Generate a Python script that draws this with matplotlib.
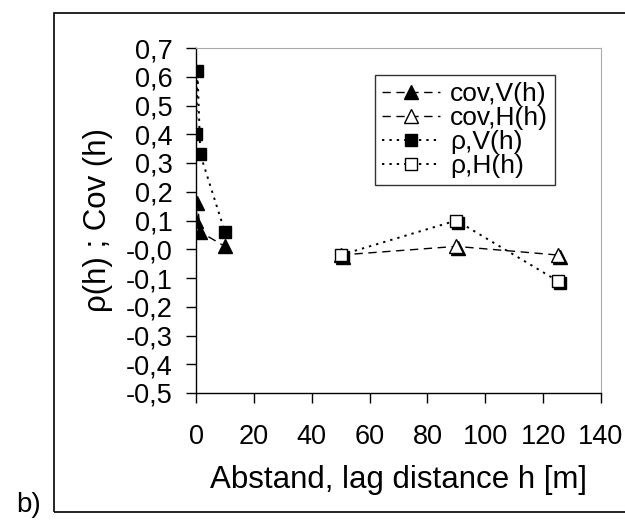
import matplotlib
matplotlib.use('Agg')
import matplotlib.pyplot as plt
import matplotlib.transforms as mtransforms
from matplotlib.patches import Rectangle
import numpy as np

plt.rcParams['font.family'] = ['Liberation Sans', 'DejaVu Sans']

# data
h_V = [0, 0.5, 1.5, 10]
cov_V = [0.10, 0.16, 0.06, 0.01]
rho_V = [0.40, 0.62, 0.33, 0.06]
h_H = [50, 90, 125]
cov_H = [-0.02, 0.01, -0.02]
rho_H = [-0.02, 0.10, -0.11]

x_ticks = [0, 20, 40, 60, 80, 100, 120, 140]
y_ticks = [round(v, 1) for v in np.arange(-0.5, 0.71, 0.1)]

fig = plt.figure(figsize=(6.25, 5.23), dpi=100)
ax = fig.add_axes([196 / 625, 1 - 393 / 523, 405 / 625, 345 / 523])

# outer chart border
fig.patches.append(Rectangle((54 / 625, 1 - 512 / 523), 0.95, (512 - 13) / 523,
                             transform=fig.transFigure, fill=False,
                             edgecolor='black', linewidth=1.2, zorder=0))

# marker shadow: black copy shifted a couple pixels down-right
shadow = ax.transData + mtransforms.ScaledTranslation(2 / 100, -2 / 100, fig.dpi_scale_trans)

dash = (0, (6, 4))
dot = (0, (1.2, 2.6))

ax.plot(h_V, cov_V, color='black', lw=1, linestyle=dash, marker='^', ms=10,
        mfc='black', mec='black', label='cov,V(h)', zorder=3)
ax.plot(h_H, cov_H, 'k^', ms=10, transform=shadow, zorder=3)
ax.plot(h_H, cov_H, color='black', lw=1, linestyle=dash, marker='^', ms=10,
        mfc='white', mec='black', label='cov,H(h)', zorder=4)
ax.plot(h_V, rho_V, color='black', lw=1.4, linestyle=dot, marker='s', ms=9,
        mfc='black', mec='black', label='ρ,V(h)', zorder=3)
ax.plot(h_H, rho_H, 'ks', ms=9, transform=shadow, zorder=3)
ax.plot(h_H, rho_H, color='black', lw=1.4, linestyle=dot, marker='s', ms=9,
        mfc='white', mec='black', label='ρ,H(h)', zorder=4)

ax.set_xlim(0, 140)
ax.set_ylim(-0.5, 0.7)
ax.set_xticks(x_ticks)
ax.set_yticks(y_ticks)
ax.set_yticklabels([f'{v:.1f}'.replace('.', ',') for v in y_ticks])
ax.tick_params(direction='out', length=7, width=1, labelsize=19.5)
ax.tick_params(axis='y', pad=10)
ax.tick_params(axis='x', pad=15)

ax.spines['top'].set_color('#aaaaaa')
ax.spines['right'].set_color('#aaaaaa')
ax.spines['left'].set_linewidth(1)
ax.spines['bottom'].set_linewidth(1)

ax.set_xlabel('Abstand, lag distance h [m]', fontsize=22.5, labelpad=11)
ax.set_ylabel('ρ(h) ; Cov (h)', fontsize=22.5, labelpad=9)

leg = ax.legend(loc='upper right', bbox_to_anchor=(0.9185, 0.959), fontsize=19,
                frameon=True, fancybox=False, edgecolor='black', handlelength=2.2,
                borderpad=0.25, labelspacing=0.0, handletextpad=0.4)
leg.get_frame().set_linewidth(1)

fig.text(16 / 625, 1 - 512 / 523, 'b)', fontsize=20)

fig.savefig('out.png', dpi=100)
